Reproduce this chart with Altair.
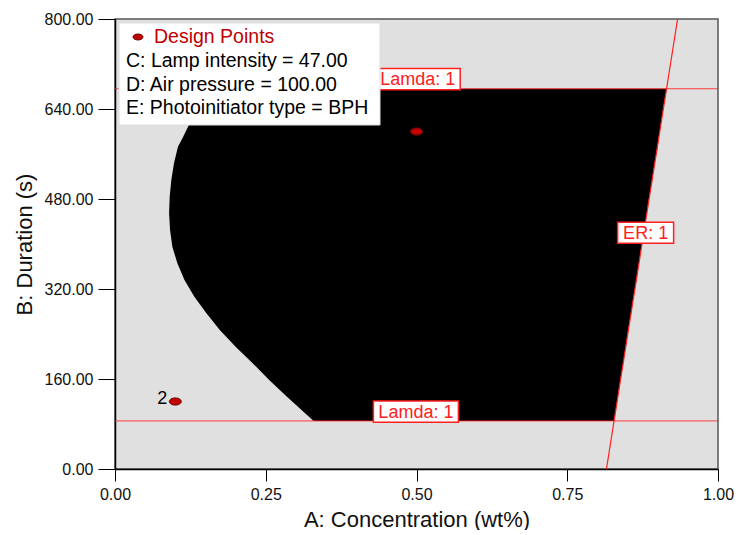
import altair as alt
import pandas as pd

# Feasible (black) region boundaries
region_duration = [85.5, 99.6, 128.5, 158.2, 188.4, 217.4, 247.1, 277.3, 306.3, 336.0, 366.2,
                   395.2, 424.9, 455.1, 484.1, 513.8, 544.0, 573.0, 590.8, 611.6, 640.0, 676.0]
region_left = [0.3295, 0.3148, 0.2852, 0.2557, 0.2279, 0.2000, 0.1738, 0.1513, 0.1316, 0.1152, 0.1033,
               0.0951, 0.0913, 0.0897, 0.0907, 0.0934, 0.0979, 0.1044, 0.1131, 0.1225, 0.1390, 0.1650]
region_right = [0.828, 0.830, 0.834, 0.838, 0.843, 0.847, 0.851, 0.856, 0.860, 0.865, 0.869,
                0.873, 0.878, 0.882, 0.886, 0.891, 0.895, 0.900, 0.902, 0.905, 0.909, 0.915]

# Constraint lines
lamda_levels = [676, 85.5]
er_conc = [0.815, 0.933]
er_duration = [0, 800]

# Design points
design_conc = [0.5, 0.1]
design_duration = [600, 120]
design_labels = ["", "2"]

# Constraint labels
label_texts = ["Lamda: 1", "Lamda: 1", "ER: 1"]
label_conc = [0.502, 0.499, 0.880]
label_duration = [693, 102, 420]
label_kind = ["wide", "wide", "narrow"]

x_ticks = [0, 0.25, 0.5, 0.75, 1.0]
y_ticks = [0, 160, 320, 480, 640, 800]

legend_title = "Design Points"
legend_lines = ["C: Lamp intensity = 47.00", "D: Air pressure = 100.00", "E: Photoinitiator type = BPH"]

FONT = "Liberation Sans"
RED = "#ff2020"
DARKRED = "#c00000"

xscale = alt.Scale(domain=[0, 1], nice=False, zero=False)
yscale = alt.Scale(domain=[0, 800], nice=False, zero=False)

xaxis = alt.Axis(values=x_ticks, format=".2f", tickSize=12, labelPadding=5, labelFlush=False,
                 title="A: Concentration (wt%)", titlePadding=7)
yaxis = alt.Axis(values=y_ticks, format=".2f", tickSize=17, labelPadding=5,
                 title="B: Duration (s)", titlePadding=8)

region_df = pd.DataFrame({"dur": region_duration, "left": region_left, "right": region_right})
region = alt.Chart(region_df).mark_area(color="black", orient="horizontal").encode(
    y=alt.Y("dur:Q", scale=yscale, axis=yaxis),
    x=alt.X("left:Q", scale=xscale, axis=xaxis),
    x2="right:Q",
)

lamda_df = pd.DataFrame({"lv": lamda_levels})
lamda = alt.Chart(lamda_df).mark_rule(color=RED, strokeWidth=1, opacity=0.85).encode(
    y=alt.Y("lv:Q", scale=yscale)
)

er_df = pd.DataFrame({"c": er_conc, "d": er_duration})
er = alt.Chart(er_df).mark_line(color=RED, strokeWidth=1.2, clip=True).encode(
    x=alt.X("c:Q", scale=xscale), y=alt.Y("d:Q", scale=yscale)
)

lab_df = pd.DataFrame({"t": label_texts, "c": label_conc, "d": label_duration, "k": label_kind})
box_wide = alt.Chart(lab_df[lab_df.k == "wide"]).mark_point(
    shape="M-1,-0.25L1,-0.25L1,0.25L-1,0.25Z", size=85 * 85, filled=True,
    fill="white", stroke=RED, strokeWidth=1.5, opacity=1,
).encode(x=alt.X("c:Q", scale=xscale), y=alt.Y("d:Q", scale=yscale))
box_narrow = alt.Chart(lab_df[lab_df.k == "narrow"]).mark_point(
    shape="M-1,-0.375L1,-0.375L1,0.375L-1,0.375Z", size=56 * 56, filled=True,
    fill="white", stroke=RED, strokeWidth=1.5, opacity=1,
).encode(x=alt.X("c:Q", scale=xscale), y=alt.Y("d:Q", scale=yscale))
lab_text = alt.Chart(lab_df).mark_text(font=FONT, fontSize=18, color=RED, baseline="middle", dy=1).encode(
    x=alt.X("c:Q", scale=xscale), y=alt.Y("d:Q", scale=yscale), text="t:N"
)

dp_df = pd.DataFrame({"c": design_conc, "d": design_duration, "t": design_labels})
ELLIPSE = "M-1,0A1,0.6,0,1,1,1,0A1,0.6,0,1,1,-1,0Z"
dp = alt.Chart(dp_df).mark_point(shape=ELLIPSE, size=144, filled=True, fill=DARKRED,
                                 stroke="#700000", strokeWidth=1, opacity=1).encode(
    x=alt.X("c:Q", scale=xscale), y=alt.Y("d:Q", scale=yscale)
)
dp_text = alt.Chart(dp_df).mark_text(font=FONT, fontSize=18, color="black", align="right",
                                     baseline="middle", dx=-8, dy=-3).encode(
    x=alt.X("c:Q", scale=xscale), y=alt.Y("d:Q", scale=yscale), text="t:N"
)

one = pd.DataFrame({"z": [0]})
leg_box = alt.Chart(one).mark_rect(fill="white", stroke="#dddddd", strokeWidth=1).encode(
    x=alt.value(4), x2=alt.value(265), y=alt.value(4), y2=alt.value(106)
)
leg_dot = alt.Chart(one).mark_point(shape=ELLIPSE, size=100, filled=True, fill=DARKRED,
                                    stroke="#700000", strokeWidth=1, opacity=1).encode(
    x=alt.value(23), y=alt.value(18)
)
leg_title = alt.Chart(one).mark_text(text=legend_title, font=FONT, fontSize=19.5, color=DARKRED,
                                     align="left", baseline="middle").encode(
    x=alt.value(39), y=alt.value(18)
)
leg_layers = [leg_box, leg_dot, leg_title]
for i, line in enumerate(legend_lines):
    leg_layers.append(
        alt.Chart(one).mark_text(text=line, font=FONT, fontSize=19.5, color="black",
                                 align="left", baseline="middle").encode(
            x=alt.value(11), y=alt.value(42 + 23.5 * i)
        )
    )

chart = alt.layer(
    region, lamda, er, box_wide, box_narrow, lab_text, dp, dp_text, *leg_layers
).properties(
    width=603, height=450, padding={"left": 5, "top": 3, "right": 0, "bottom": 0},
    background="white",
).configure_view(
    fill="#e0e0e0", stroke="#555555", strokeWidth=1.5
).configure_axis(
    grid=False, domainColor="black", domainWidth=1.5, tickColor="black", tickWidth=1,
    labelFont=FONT, labelFontSize=16, labelColor="#111111",
    titleFont=FONT, titleFontSize=22, titleFontWeight="normal", titleColor="#111111",
)

chart.save("out.html", embed_options={"renderer": "svg", "actions": False})
